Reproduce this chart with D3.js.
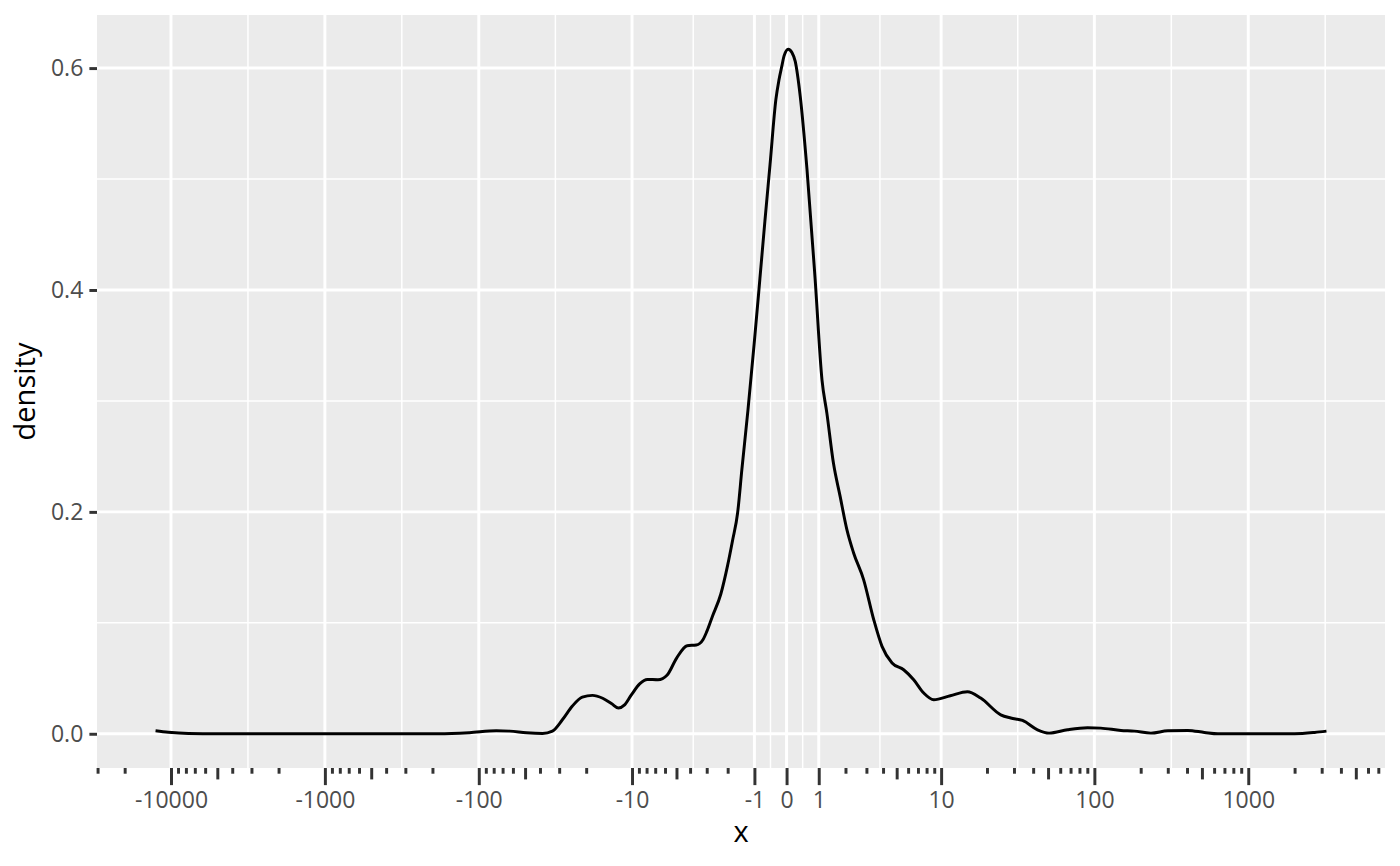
<!DOCTYPE html>
<html>
<head>
<meta charset="utf-8">
<script src="https://cdn.jsdelivr.net/npm/d3@7"></script>
<style>
  html, body { margin: 0; padding: 0; background: #fff; }
  svg { display: block; }
</style>
</head>
<body>
<script>
// density curve (x in data units, pseudo-log axis)
const densX = [-12600, -10400, -7700, -5000, -1000, -181, -115, -77, -63, -49,
  -38.5, -33.2, -28.6, -24.6, -21.2, -18.2, -15.6, -13.6, -12.3, -11.2,
  -10.1, -8.9, -7.9, -6.7, -5.8, -5.0, -4.2, -3.6, -3.2, -3.0,
  -2.7, -2.3, -2.0, -1.8, -1.6, -1.44, -1.22, -1.01, -0.82, -0.66,
  -0.5, -0.32, -0.23, -0.14, -0.075, 0.05, 0.16, 0.26, 0.41, 0.62,
  0.88, 1.11, 1.28, 1.52, 1.78, 2.06, 2.36, 2.85, 3.41, 3.93,
  4.64, 5.59, 6.55, 7.66, 8.93, 11.5, 14.9, 18.2, 24.6, 28.6,
  34.1, 42.7, 50.8, 66.9, 90.3, 110, 149, 182, 233, 300,
  405, 519, 635, 2000, 2700, 3222];
const densY = [0.0027, 0.0014, 0.0003, 0, 0, 0, 0.001, 0.0027, 0.0024, 0.0009,
  0.0003, 0.0024, 0.0126, 0.025, 0.033, 0.0346, 0.032, 0.027, 0.0232, 0.026,
  0.035, 0.045, 0.049, 0.0487, 0.053, 0.068, 0.0794, 0.080, 0.085, 0.092,
  0.106, 0.126, 0.152, 0.174, 0.199, 0.238, 0.292, 0.351, 0.41, 0.462,
  0.513, 0.572, 0.589, 0.602, 0.611, 0.617, 0.614, 0.606, 0.575, 0.509,
  0.41, 0.319, 0.289, 0.244, 0.214, 0.184, 0.163, 0.139, 0.103, 0.0788,
  0.0638, 0.0577, 0.0487, 0.0367, 0.0307, 0.0343, 0.0379, 0.0322, 0.0171, 0.0142,
  0.012, 0.0036, 0.0006, 0.0036, 0.0054, 0.0051, 0.003, 0.0024, 0.0006, 0.0027,
  0.003, 0.0012, 0, 0, 0.0012, 0.0024];

const xBreaks = [-10000, -1000, -100, -10, -1, 0, 1, 10, 100, 1000];
const yBreaks = [0, 0.2, 0.4, 0.6];
const logMults = [1, 2, 3, 4, 5, 6, 7, 8, 9];
const logPowers = [0, 1, 2, 3, 4];

const W = 1400, H = 866;
const panel = { left: 97, right: 1385, top: 15, bottom: 768 };
const pt = 200 / 72.27;        // picture was made at 200 dpi
const lw = 0.5 * 72.27 / 25.4 / 96 * 200;  // ggplot linewidth 0.5
const tickLen = 2.75 * pt;

const data = densX.map((x, i) => ({ x, y: densY[i] }));

// pseudo-log transform (sigma 1, base 10)
const tr = v => Math.asinh(v / 2) / Math.LN10;

const tExt = d3.extent(densX, tr);
const tPad = (tExt[1] - tExt[0]) * 0.05;
const lin = d3.scaleLinear()
  .domain([tExt[0] - tPad, tExt[1] + tPad])
  .range([panel.left, panel.right]);

function makeX() {
  const s = v => lin(tr(v));
  s.copy = makeX;
  s.range = () => lin.range();
  s.domain = () => lin.domain();
  return s;
}
const x = makeX();

const yMax = d3.max(densY);
const y = d3.scaleLinear()
  .domain([-0.05 * yMax, yMax * 1.05])
  .range([panel.bottom, panel.top]);

const svg = d3.select("body").append("svg")
  .attr("width", W).attr("height", H)
  .style("font-family", "'Open Sans', 'Noto Sans', sans-serif");

svg.append("rect").attr("width", W).attr("height", H).attr("fill", "#fff");

// panel
svg.append("rect")
  .attr("x", panel.left).attr("y", panel.top)
  .attr("width", panel.right - panel.left)
  .attr("height", panel.bottom - panel.top)
  .attr("fill", "#EBEBEB");

// minor grid: midpoints between breaks in transformed space
const tDom = lin.domain();
const tb = xBreaks.map(tr);
const xMinor = [tb[0] - (tb[1] - tb[0]) / 2];
for (let i = 0; i < tb.length - 1; i++) xMinor.push((tb[i] + tb[i + 1]) / 2);
xMinor.push(tb[tb.length - 1] + (tb[tb.length - 1] - tb[tb.length - 2]) / 2);
const yMinor = [-0.1, 0.1, 0.3, 0.5, 0.7];

const grid = svg.append("g");
grid.selectAll(".vminor")
  .data(xMinor.filter(t => t > tDom[0] && t < tDom[1]))
  .join("line")
  .attr("x1", d => lin(d)).attr("x2", d => lin(d))
  .attr("y1", panel.top).attr("y2", panel.bottom)
  .attr("stroke", "#fff").attr("stroke-width", lw / 2);
grid.selectAll(".hminor")
  .data(yMinor.filter(v => v > y.domain()[0] && v < y.domain()[1]))
  .join("line")
  .attr("x1", panel.left).attr("x2", panel.right)
  .attr("y1", d => y(d)).attr("y2", d => y(d))
  .attr("stroke", "#fff").attr("stroke-width", lw / 2);
grid.selectAll(".vmajor")
  .data(xBreaks)
  .join("line")
  .attr("x1", d => x(d)).attr("x2", d => x(d))
  .attr("y1", panel.top).attr("y2", panel.bottom)
  .attr("stroke", "#fff").attr("stroke-width", lw);
grid.selectAll(".hmajor")
  .data(yBreaks)
  .join("line")
  .attr("x1", panel.left).attr("x2", panel.right)
  .attr("y1", d => y(d)).attr("y2", d => y(d))
  .attr("stroke", "#fff").attr("stroke-width", lw);

// density line
const line = d3.line()
  .x(d => x(d.x))
  .y(d => y(d.y))
  .curve(d3.curveMonotoneX);

svg.append("path")
  .datum(data)
  .attr("d", line)
  .attr("fill", "none")
  .attr("stroke", "#000")
  .attr("stroke-width", lw);

// log ticks on x
const inX = v => { const t = tr(v); return t >= tDom[0] && t <= tDom[1]; };
const midTicks = [], shortTicks = [];
logPowers.forEach(p => {
  logMults.forEach(m => {
    if (m === 1) return;
    [1, -1].forEach(sg => {
      const v = sg * m * Math.pow(10, p);
      if (!inX(v)) return;
      (m === 5 ? midTicks : shortTicks).push(v);
    });
  });
});

function styleAxis(g) {
  g.select(".domain").remove();
  g.selectAll(".tick line").attr("stroke", "#333333").attr("stroke-width", lw);
  g.selectAll(".tick text")
    .attr("fill", "#4D4D4D")
    .style("font-size", "23px")
    .style("font-family", "'Open Sans', 'Noto Sans', sans-serif");
}

svg.append("g")
  .attr("transform", `translate(0,${panel.bottom})`)
  .call(d3.axisBottom(x).tickValues(shortTicks).tickSize(tickLen * 0.75).tickFormat(""))
  .call(styleAxis);
svg.append("g")
  .attr("transform", `translate(0,${panel.bottom})`)
  .call(d3.axisBottom(x).tickValues(midTicks).tickSize(tickLen * 1.5).tickFormat(""))
  .call(styleAxis);
svg.append("g")
  .attr("transform", `translate(0,${panel.bottom})`)
  .call(d3.axisBottom(x).tickValues(xBreaks).tickSize(tickLen * 2.25)
    .tickPadding(2.2 * pt).tickFormat(d => String(d)))
  .call(styleAxis);

// y axis
svg.append("g")
  .attr("transform", `translate(${panel.left},0)`)
  .call(d3.axisLeft(y).tickValues(yBreaks).tickSize(tickLen)
    .tickPadding(2.2 * pt).tickFormat(d3.format(".1f")))
  .call(styleAxis);

// axis titles
svg.append("text")
  .attr("x", (panel.left + panel.right) / 2)
  .attr("y", 842)
  .attr("text-anchor", "middle")
  .attr("fill", "#000")
  .style("font-size", "29px")
  .text("x");

svg.append("text")
  .attr("transform", `translate(35,${(panel.top + panel.bottom) / 2}) rotate(-90)`)
  .attr("text-anchor", "middle")
  .attr("fill", "#000")
  .style("font-size", "29px")
  .text("density");
</script>
</body>
</html>
